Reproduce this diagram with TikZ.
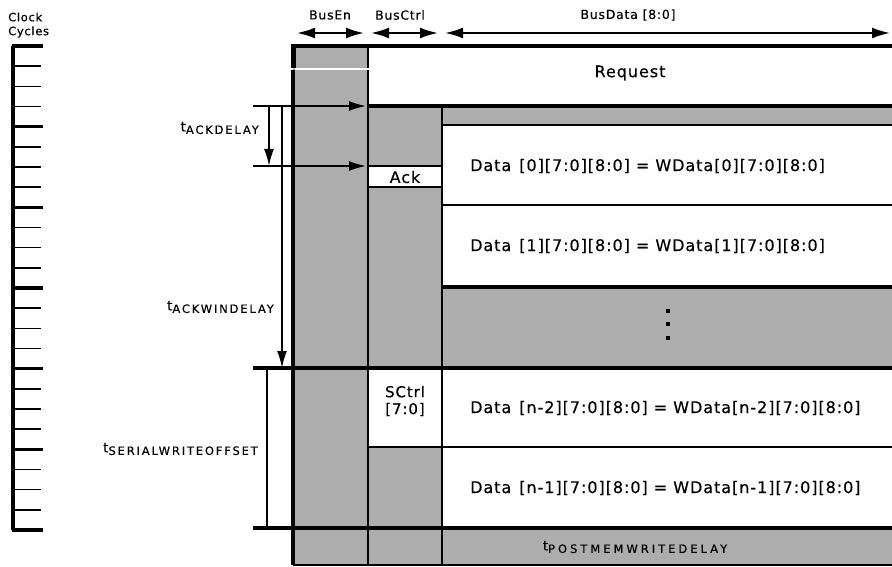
\documentclass[tikz,border=0pt]{standalone}
\usepackage{fontspec}
\setmainfont{DejaVu Sans}[LetterSpace=6,FakeBold=0.4]
\newfontfamily\subfont{DejaVu Sans}[LetterSpace=16,FakeBold=0.4]
\newfontfamily\widesubfont{DejaVu Sans}[LetterSpace=26,FakeBold=0.4]
\usetikzlibrary{arrows.meta}

% t with lowered capital subscript
\newcommand{\tlabel}[2][\subfont]{{\fontsize{13.5}{14}\selectfont t}\raisebox{-2.5pt}{#1\fontsize{11.5}{12}\selectfont #2}}

\tikzset{
  busfill/.style={fill=black!32},
  thickline/.style={line width=3.2pt},
  thinline/.style={line width=1.8pt},
  timearrow/.style={line width=1.8pt,-{Latex[length=17pt,width=10pt]}},
  busarrow/.style={line width=2pt,{Latex[length=18pt,width=11pt]}-{Latex[length=18pt,width=11pt]}},
  cell/.style={font=\fontsize{16}{19}\selectfont,inner sep=0pt},
  head/.style={font=\fontsize{12.5}{14}\selectfont,inner sep=0pt},
  timelabel/.style={anchor=east,inner sep=0pt},
  dotmark/.style={fill=black,minimum size=4.5pt,inner sep=0pt},
}

\begin{document}
\begin{tikzpicture}[x=1pt,y=-1pt]
\useasboundingbox (0,0) rectangle (892,567);

% Parameters
\def\xEn{293}
\def\xCtrl{368}
\def\xData{442}
\def\xEnd{892}
\def\xTim{253}
\def\yTop{46}
\def\yReq{106}
\def\yDzero{125}
\def\yAckA{166}
\def\yAckB{187}
\def\yDone{205}
\def\yGap{287}
\def\yS{368}
\def\yN{447}
\def\yB{528}
\def\yEnd{565}

% Clock cycles ruler
\node[head,anchor=west,font=\fontsize{11.5}{13}\selectfont] (clk) at (8,17) {Clock};
\node[head,anchor=west,font=\fontsize{11.5}{13}\selectfont] (cyc) at (8,32) {Cycles};
\draw[line width=3.2pt] (13,46) -- (13,530);
\foreach \i in {0,...,24} {
  \pgfmathsetmacro{\yy}{46+\i*20.167}
  \pgfmathtruncatemacro{\m}{mod(\i,4)}
  \ifnum\m=0
    \draw[line width=3.2pt] (11.5,\yy) -- (43,\yy);
  \else
    \draw[line width=1.6pt] (13,\yy) -- (41,\yy);
  \fi
}

% Bus fields
\node[head] (busen) at (330,15) {BusEn};
\node[head] (busctrl) at (400,15) {BusCtrl};
\node[head] (busdata) at (628,15) {BusData [8:0]};
\coordinate (enL) at (297,33);  \coordinate (enR) at (364,33);
\coordinate (ctrlL) at (371,33); \coordinate (ctrlR) at (438,33);
\coordinate (dataL) at (445,33); \coordinate (dataR) at (890,33);
\draw[busarrow] (enL) -- (enR);
\draw[busarrow] (ctrlL) -- (ctrlR);
\draw[busarrow] (dataL) -- (dataR);

% Gray areas
\fill[busfill] (\xEn,\yTop) rectangle (\xCtrl,\yEnd);
\fill[busfill] (\xCtrl,\yReq) rectangle (\xEnd,\yEnd);

% White cells
\fill[white] (\xCtrl,\yTop) rectangle (\xEnd,\yReq);
\fill[white] (\xCtrl,\yAckA) rectangle (\xData,\yAckB);
\fill[white] (\xData,\yDzero) rectangle (\xEnd,\yGap);
\fill[white] (\xCtrl,\yS) rectangle (\xData,\yN);
\fill[white] (\xData,\yS) rectangle (\xEnd,\yB);

% first cycle gap in BusEn
\draw[white,line width=1.5pt] (\xEn+2,69) -- (\xCtrl+1,69);

% Frame lines
\draw[line width=4.5pt] (\xEn-2,\yTop) -- (\xEnd,\yTop);
\draw[line width=5pt] (\xEn,\yTop) -- (\xEn,68);
\draw[line width=3.5pt] (\xEn,70) -- (\xEn,\yEnd);
\draw[thinline] (\xCtrl,\yTop) -- (\xCtrl,68);
\draw[thinline] (\xCtrl,70) -- (\xCtrl,\yEnd);
\draw[line width=2.4pt] (\xData,\yReq) -- (\xData,\yEnd);
\draw[thickline] (\xCtrl,\yReq) -- (\xEnd,\yReq);
\draw[line width=2.4pt] (\xData,\yDzero) -- (\xEnd,\yDzero);
\draw[thinline] (\xCtrl,\yAckA) -- (\xData,\yAckA);
\draw[thinline] (\xCtrl,\yAckB) -- (\xData,\yAckB);
\draw[thinline] (\xData,\yDone) -- (\xEnd,\yDone);
\draw[thickline] (\xData,\yGap) -- (\xEnd,\yGap);
\draw[thickline] (\xTim,\yS) -- (\xEnd,\yS);
\draw[line width=2.4pt] (\xCtrl,\yN) -- (\xEnd,\yN);
\draw[line width=3.5pt] (\xTim,\yB) -- (\xEnd,\yB);
\draw[thinline] (\xEn,\yEnd) -- (\xEnd,\yEnd);

% Timing arrows
\coordinate (reqL) at (\xTim,\yReq);  \coordinate (reqR) at (366,\yReq);
\coordinate (ackL) at (\xTim,\yAckA); \coordinate (ackR) at (366,\yAckA);
\draw[timearrow] (reqL) -- (reqR);
\draw[timearrow] (ackL) -- (ackR);
\coordinate (adTop) at (269,\yReq); \coordinate (adBot) at (269,\yAckA);
\draw[timearrow] (adTop) -- (adBot);
\coordinate (awTop) at (282,\yReq); \coordinate (awBot) at (282,\yS);
\draw[timearrow] (awTop) -- (awBot);
\coordinate (swTop) at (267,\yS); \coordinate (swBot) at (267,\yB);
\draw[thinline] (swTop) -- (swBot);

% Timing labels
\node[timelabel] (ackdelay) at (259,128) {\tlabel{ACKDELAY}};
\node[timelabel] (ackwindelay) at (274,307) {\tlabel{ACKWINDELAY}};
\node[timelabel] (swoffset) at (258,449) {\tlabel{SERIALWRITEOFFSET}};
\node[inner sep=0pt] (postdelay) at (635,547) {\tlabel[\widesubfont]{POSTMEMWRITEDELAY}};

% Cell texts
\node[cell] (req) at (630,73) {Request};
\node[cell] (ack) at (405,177) {Ack};
\node[cell,align=center,font=\fontsize{15}{17}\selectfont] (sctrl) at (405,401) {SCtrl\\{}[7:0]};
\node[cell,anchor=west] (dzero) at (470,166) {Data\enspace[0][7:0][8:0] = WData[0][7:0][8:0]};
\node[cell,anchor=west] (done) at (470,246) {Data\enspace[1][7:0][8:0] = WData[1][7:0][8:0]};
\node[cell,anchor=west] (dntwo) at (470,408) {Data\enspace[n-2][7:0][8:0] = WData[n-2][7:0][8:0]};
\node[cell,anchor=west] (dnone) at (470,488) {Data\enspace[n-1][7:0][8:0] = WData[n-1][7:0][8:0]};

% Continuation dots
\foreach \d/\yy in {a/311,b/324,c/338}
  \node[dotmark] (dot\d) at (668,\yy) {};

\end{tikzpicture}
\end{document}
